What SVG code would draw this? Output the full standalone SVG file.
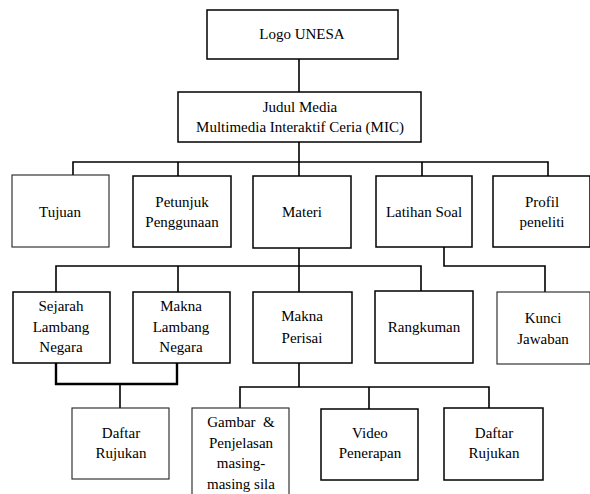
<svg xmlns="http://www.w3.org/2000/svg" width="590" height="494" viewBox="0 0 590 494">
<style>
.box{fill:#fff;stroke:#000;stroke-width:1.5}
.thin{fill:#fff;stroke:#222;stroke-width:1.1}
.tx{font-family:"Liberation Serif","Noto Serif","DejaVu Serif","Times New Roman",Times,FreeSerif,serif;font-size:15px;fill:#000;text-anchor:middle}
.c{fill:none;stroke:#000;stroke-width:1.6}
.c2{fill:none;stroke:#000;stroke-width:2.4}
</style>
<rect width="590" height="494" fill="#fff"/>
<g id="connectors">
<path class="c" d="M299,59V92"/>
<path class="c" d="M299,142V162M73,175V162H548V176M178,162V176M299,162V176M422,162V176"/>
<path class="c" d="M299,248V266M56,292V266H421V291M178,266V292M299,266V292"/>
<path class="c" d="M444,247V266H545V292"/>
<path class="c2" d="M56,363V384H177V363"/>
<path class="c" d="M120,384V408"/>
<path class="c" d="M299,363V387M240,408V387H489V408M369,387V409"/>
</g>
<g id="logo"><rect class="box" x="207" y="10" width="191" height="49"/><text class="tx" x="302" y="39">Logo UNESA</text></g>
<g id="judul"><rect class="box" x="178" y="92" width="243" height="50"/><text class="tx" x="300" y="112">Judul Media</text><text class="tx" x="300" y="132">Multimedia Interaktif Ceria (MIC)</text></g>
<g id="tujuan"><rect class="thin" x="12" y="175" width="97" height="72"/><text class="tx" x="60" y="217">Tujuan</text></g>
<g id="petunjuk"><rect class="box" x="133" y="176" width="98" height="71"/><text class="tx" x="182" y="207">Petunjuk</text><text class="tx" x="182" y="227">Penggunaan</text></g>
<g id="materi"><rect class="box" x="253" y="176" width="98" height="72"/><text class="tx" x="302" y="217">Materi</text></g>
<g id="latihan"><rect class="box" x="376" y="176" width="96" height="71"/><text class="tx" x="424" y="217">Latihan Soal</text></g>
<g id="profil"><rect class="box" x="493" y="176" width="97" height="71"/><text class="tx" x="542" y="207">Profil</text><text class="tx" x="542" y="227">peneliti</text></g>
<g id="sejarah"><rect class="box" x="13" y="292" width="97" height="71"/><text class="tx" x="61" y="311">Sejarah</text><text class="tx" x="61" y="332">Lambang</text><text class="tx" x="61" y="352">Negara</text></g>
<g id="makna-lambang"><rect class="box" x="133" y="292" width="97" height="71"/><text class="tx" x="181" y="311">Makna</text><text class="tx" x="181" y="332">Lambang</text><text class="tx" x="181" y="352">Negara</text></g>
<g id="makna-perisai"><rect class="box" x="253" y="292" width="99" height="71"/><text class="tx" x="302" y="321">Makna</text><text class="tx" x="302" y="343">Perisai</text></g>
<g id="rangkuman"><rect class="box" x="375" y="291" width="98" height="72"/><text class="tx" x="424" y="332">Rangkuman</text></g>
<g id="kunci"><rect class="thin" x="497" y="292" width="93" height="72"/><text class="tx" x="543" y="323">Kunci</text><text class="tx" x="543" y="344">Jawaban</text></g>
<g id="daftar-1"><rect class="thin" x="72" y="408" width="97" height="71"/><text class="tx" x="121" y="438">Daftar</text><text class="tx" x="121" y="458">Rujukan</text></g>
<g id="gambar"><rect class="thin" x="192" y="408" width="97" height="95"/><text class="tx" x="241" y="427" xml:space="preserve">Gambar  &amp;</text><text class="tx" x="241" y="448">Penjelasan</text><text class="tx" x="241" y="468">masing-</text><text class="tx" x="241" y="489">masing sila</text></g>
<g id="video"><rect class="box" x="321" y="409" width="97" height="71"/><text class="tx" x="370" y="438">Video</text><text class="tx" x="370" y="458">Penerapan</text></g>
<g id="daftar-2"><rect class="box" x="444" y="408" width="99" height="72"/><text class="tx" x="494" y="438">Daftar</text><text class="tx" x="494" y="458">Rujukan</text></g>
</svg>
